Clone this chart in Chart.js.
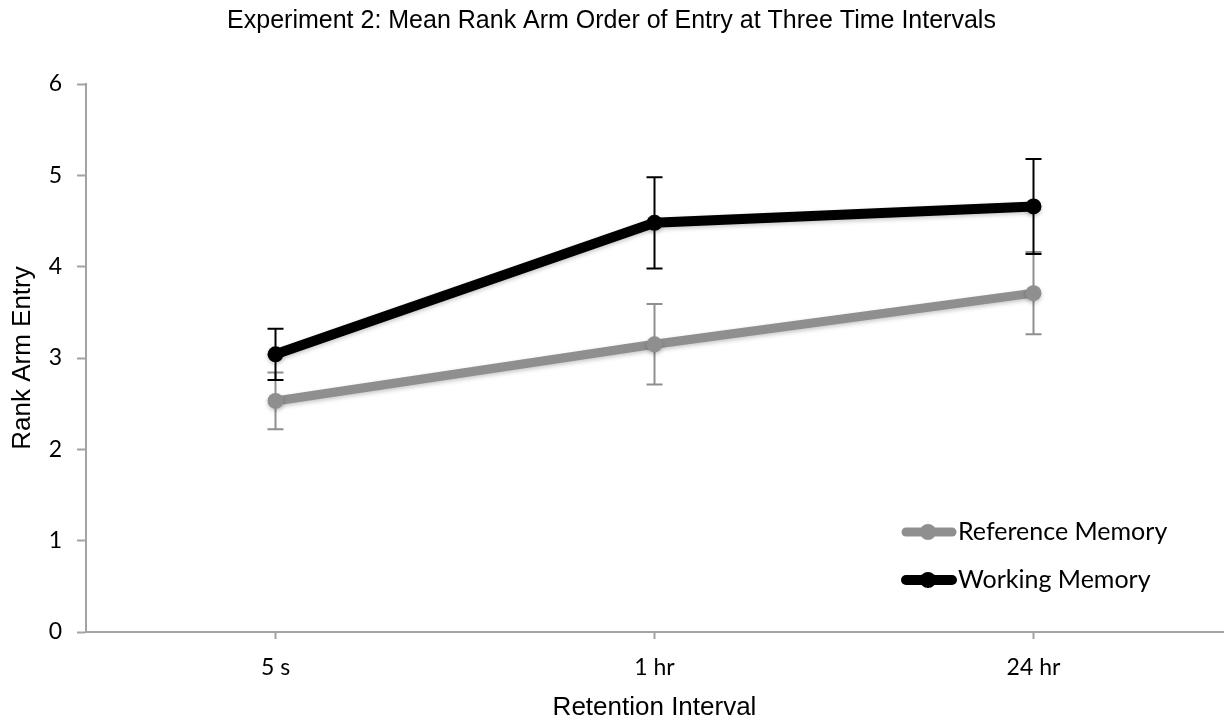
<!DOCTYPE html>
<html>
<head>
<meta charset="utf-8">
<script src="https://cdn.jsdelivr.net/npm/chart.js@4.4.1/dist/chart.umd.min.js"></script>
<style>
  html, body { margin: 0; padding: 0; background: #fff; }
  #wrap { width: 1224px; height: 723px; }
</style>
</head>
<body>
<div id="wrap"><canvas id="chart" width="1224" height="723"></canvas></div>
<script>
const intervals = ["5 s", "1 hr", "24 hr"];
const referenceMean = [2.53, 3.15, 3.71];
const referenceErr = [0.31, 0.44, 0.45];
const workingMean = [3.04, 4.48, 4.66];
const workingErr = [0.28, 0.50, 0.52];

const GREY = "#8f8f8f";
const AXIS = "#a3a3a3";
const TICK_FONT = "Lato";

// error bars drawn behind the lines, using the chart's own scales
const errorBars = {
  id: "errorBars",
  beforeDatasetsDraw(chart) {
    const ctx = chart.ctx;
    const x = chart.scales.x;
    const y = chart.scales.y;
    chart.data.datasets.forEach(ds => {
      ctx.save();
      ctx.strokeStyle = ds.errColor;
      ctx.lineWidth = 2;
      ds.data.forEach((v, i) => {
        const px = x.getPixelForValue(i);
        const top = y.getPixelForValue(v + ds.err[i]);
        const bot = y.getPixelForValue(v - ds.err[i]);
        ctx.beginPath();
        ctx.moveTo(px, top); ctx.lineTo(px, bot);
        ctx.moveTo(px - 8, top); ctx.lineTo(px + 8, top);
        ctx.moveTo(px - 8, bot); ctx.lineTo(px + 8, bot);
        ctx.stroke();
      });
      ctx.restore();
    });
  },
  beforeDatasetDraw(chart) {
    const ctx = chart.ctx;
    ctx.save();
    ctx.shadowColor = "rgba(0,0,0,0.22)";
    ctx.shadowBlur = 4;
    ctx.shadowOffsetY = 2;
  },
  afterDatasetDraw(chart) {
    chart.ctx.restore();
  }
};

// legend in the lower right of the plot, like the original
const cornerLegend = {
  id: "cornerLegend",
  afterDraw(chart) {
    const ctx = chart.ctx;
    const rows = [532, 580];
    ctx.save();
    ctx.font = "25px " + TICK_FONT;
    ctx.textBaseline = "middle";
    chart.data.datasets.forEach((ds, i) => {
      const yy = rows[i];
      ctx.strokeStyle = ds.borderColor;
      ctx.lineWidth = ds.borderWidth;
      ctx.lineCap = "round";
      ctx.beginPath();
      ctx.moveTo(906, yy); ctx.lineTo(952, yy);
      ctx.stroke();
      ctx.fillStyle = ds.borderColor;
      ctx.beginPath();
      ctx.arc(928, yy, 8, 0, Math.PI * 2);
      ctx.fill();
      ctx.fillStyle = "#000";
      ctx.fillText(ds.label, 958, yy);
    });
    ctx.restore();
  }
};

new Chart(document.getElementById("chart"), {
  type: "line",
  data: {
    labels: intervals,
    datasets: [
      {
        label: "Reference Memory",
        data: referenceMean,
        err: referenceErr,
        errColor: GREY,
        borderColor: GREY,
        backgroundColor: GREY,
        borderWidth: 9,
        pointRadius: 8,
        pointBorderWidth: 0,
        pointHoverRadius: 8,
        tension: 0
      },
      {
        label: "Working Memory",
        data: workingMean,
        err: workingErr,
        errColor: "#000",
        borderColor: "#000",
        backgroundColor: "#000",
        borderWidth: 10,
        pointRadius: 8,
        pointBorderWidth: 0,
        pointHoverRadius: 8,
        tension: 0
      }
    ]
  },
  options: {
    responsive: false,
    animation: false,
    layout: { autoPadding: false, padding: { top: 0, right: 1, left: 0, bottom: 0 } },
    plugins: {
      legend: { display: false },
      tooltip: { enabled: false },
      title: {
        display: true,
        text: "Experiment 2: Mean Rank Arm Order of Entry at Three Time Intervals",
        color: "#000",
        font: { family: "Liberation Sans", size: 25, weight: "normal", lineHeight: 1.2 },
        padding: { top: 6, bottom: 48 }
      }
    },
    scales: {
      x: {
        offset: true,
        grid: { display: true, drawOnChartArea: false, offset: false, tickLength: 7, tickColor: AXIS, tickWidth: 2 },
        border: { color: AXIS, width: 2 },
        ticks: { color: "#000", font: { family: TICK_FONT, size: 23 }, padding: 15 },
        title: {
          display: true,
          text: "Retention Interval",
          color: "#000",
          font: { family: "Liberation Sans", size: 26 },
          padding: { top: 4, bottom: 0 }
        },
        afterFit(scale) {
          scale.height = 91;
        }
      },
      y: {
        min: 0,
        max: 6,
        ticks: { stepSize: 1, color: "#000", font: { family: TICK_FONT, size: 23 }, padding: 15 },
        grid: { display: true, drawOnChartArea: false, tickLength: 9, tickColor: AXIS, tickWidth: 2 },
        border: { color: AXIS, width: 2 },
        title: {
          display: true,
          text: "Rank Arm Entry",
          color: "#000",
          font: { family: "Liberation Sans", size: 26 },
          padding: { top: 7, bottom: 4 }
        },
        afterFit(scale) {
          scale.width = 86;
        }
      }
    }
  },
  plugins: [errorBars, cornerLegend]
});
</script>
</body>
</html>
